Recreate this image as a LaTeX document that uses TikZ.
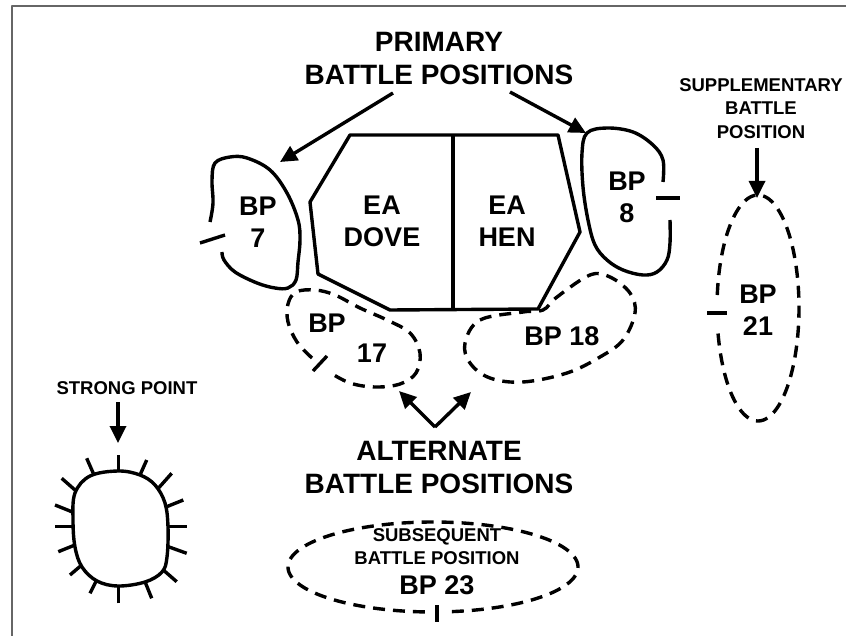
\documentclass[tikz,border=0pt]{standalone}
\usepackage{fontspec}
\setmainfont{Liberation Sans}
\usetikzlibrary{arrows.meta}
\begin{document}
\begin{tikzpicture}[x=1pt,y=-1pt,line join=round,
  outl/.style={line width=3.4pt},
  dsh/.style={line width=3.4pt,dash pattern=on 12pt off 8pt},
  arr/.style={line width=3.4pt,-{Triangle[length=17pt,width=16pt]}},
  big/.style={font=\bfseries\fontsize{28}{33}\selectfont,align=center,inner sep=0pt},
  mid/.style={font=\bfseries\fontsize{27}{32}\selectfont,align=center,inner sep=0pt},
  sml/.style={font=\bfseries\fontsize{18.5}{23.5}\selectfont,align=center,inner sep=0pt},
  tick/.style={line width=3.4pt}]
\useasboundingbox (0,0) rectangle (846,636);
% frame
\draw[black!60,line width=2pt] (12,640) -- (12,6) -- (850,6);

% engagement areas
\draw[outl] (350,135) -- (558,135) -- (580,232) -- (538,309) -- (390,310) -- (318,274) -- (310,202) -- cycle;
\draw[outl] (453,135) -- (453,309);
\node[mid] (dove) at (382,221) {EA\\DOVE};
\node[mid] (hen) at (507,221) {EA\\HEN};

% BP 7
\draw[outl] plot[smooth,tension=0.6] coordinates {(210,222) (213,203) (212,180) (215,163) (230,157) (247,158) (270,170) (287,193) (298,220) (300,240) (298,262) (296,280) (288,288) (275,288) (257,283) (235,272) (224,260) (222,252)};
\draw[tick] (200,243) -- (225,235);
\node[mid] (bp7) at (258,222) {BP\\7};

% BP 8
\draw[outl] plot[smooth,tension=0.6] coordinates {(663,182) (663,160) (653,145) (633,132) (607,128) (587,133) (582,153) (583,187) (588,220) (595,245) (607,260) (623,270) (643,275) (657,272) (667,260) (670,243) (670,220)};
\draw[tick] (656,198) -- (680,198);
\node[mid] (bp8) at (627,197) {BP\\8};

% BP 17
\draw[dsh] plot[smooth,tension=0.6] coordinates {(312,358) (297,342) (288,322) (288,304) (296,292) (315,290) (335,295) (360,308) (387,320) (410,333) (420,353) (416,373) (400,384) (375,387) (350,383) (329,372)};
\draw[tick] (313,371) -- (327,356);
\node[mid] (bp17a) at (327,323) {BP};
\node[mid] (bp17b) at (372,353) {17};

% BP 18
\draw[dsh] plot[smooth cycle,tension=0.6] coordinates {(465,343) (480,320) (523,312) (543,310) (557,297) (590,275) (610,277) (630,293) (635,313) (623,340) (600,357) (567,373) (523,382) (490,378) (470,363)};
\node[mid] (bp18) at (562,336) {BP 18};

% BP 21
\draw[dsh] plot[domain=186.6:528.3,samples=120,smooth] ({758+41*cos(\x)},{308+113*sin(\x)});
\draw[tick] (707,313) -- (727,313);
\node[mid] (bp21) at (758,310) {BP\\21};

% BP 23
\draw[dsh] plot[domain=93.2:443.3,samples=150,smooth] ({433+145*cos(\x)},{567+45*sin(\x)});
\draw[tick] (437,605) -- (437,622);
\node[sml] (subs) at (437,546.5) {SUBSEQUENT\\BATTLE POSITION};
\node[mid] (bp23) at (437,585) {BP 23};

% strong point
\draw[outl] plot[smooth cycle,tension=0.6] coordinates {(118,471) (140,475) (155,485) (165,503) (168,527) (167,557) (162,572) (145,582) (118,586) (97,581) (82,567) (75,547) (73,520) (75,493) (90,476)};
\foreach \a/\b/\c/\d in {118.3/455/118.3/471.7, 86.7/458.3/93.3/473.3, 146.7/460/140/475, 61.7/478.3/75/490, 171.7/473.3/158.3/488.3, 55/505/71.7/511.7, 183.3/500/166.7/506.7, 55/526.7/73.3/526.7, 186.7/526.7/168.3/526.7, 58.3/551.7/75/545, 186.7/553.3/168.3/546.7, 70/575/81.7/565, 176.7/581.7/163.3/570, 90/593.3/96.7/580, 151.7/598.3/145/581.7, 118.3/603.3/118.3/585}
  \draw[tick] (\a,\b) -- (\c,\d);

% labels
\node[big] (prim) at (439,58.5) {PRIMARY\\BATTLE POSITIONS};
\node[sml] (supp) at (761,108.5) {SUPPLEMENTARY\\BATTLE\\POSITION};
\node[sml] (strong) at (127,388) {STRONG POINT};
\node[big] (alt) at (439,468) {ALTERNATE\\BATTLE POSITIONS};

% arrows
\coordinate (p1s) at (393,93);
\coordinate (p1e) at (280,162);
\coordinate (p2s) at (510,92);
\coordinate (p2e) at (586,133);
\coordinate (s1s) at (757,148);
\coordinate (s1e) at (757,198);
\coordinate (t1s) at (118,402);
\coordinate (t1e) at (118,443);
\coordinate (av) at (435,427);
\coordinate (a1e) at (399,391);
\coordinate (a2e) at (471,392);
\draw[arr] (p1s) -- (p1e);
\draw[arr] (p2s) -- (p2e);
\draw[arr] (s1s) -- (s1e);
\draw[arr] (t1s) -- (t1e);
\draw[arr] (av) -- (a1e);
\draw[arr] (av) -- (a2e);
\end{tikzpicture}
\end{document}
